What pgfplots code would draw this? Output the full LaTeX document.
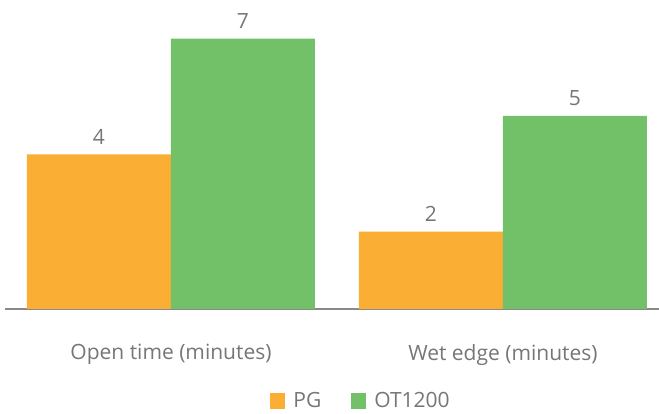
\documentclass[border=0pt]{standalone}
\usepackage{pgfplots}
\pgfplotsset{compat=1.18}
\usepackage{fontspec}
\setmainfont{Open Sans}
\definecolor{pgorange}{RGB}{250,174,52}
\definecolor{otgreen}{RGB}{114,192,103}
\definecolor{txtgray}{RGB}{118,118,118}
\definecolor{axgray}{RGB}{137,137,137}
\begin{document}
\begin{tikzpicture}
\path[use as bounding box] (0,0) rectangle (659pt,414pt);
\begin{axis}[
  at={(5pt,105pt)}, anchor=south west,
  scale only axis,
  width=654pt, height=309pt,
  ybar=0pt, bar width=144pt,
  xmin=-0.5, xmax=1.47,
  ymin=0, ymax=8,
  axis x line=bottom, axis y line=none,
  x axis line style={-, axgray, line width=1.6pt},
  xtick={0,1}, xticklabels={Open time (minutes),Wet edge (minutes)},
  major tick length=0pt,
  xticklabel style={font=\fontsize{21}{24}\selectfont, text=txtgray, inner sep=0pt, yshift=-35pt},
  nodes near coords,
  /pgf/number format/assume math mode=true,
  every node near coord/.append style={font=\fontsize{21}{24}\selectfont, text=txtgray, inner sep=0pt, yshift=10pt},
  legend style={draw=none, fill=none, at={(0.544,-0.297)}, anchor=center, legend columns=2,
    font=\fontsize{21}{24}\selectfont, text=txtgray, inner sep=0pt,
    /tikz/every even column/.append style={column sep=27.5pt}},
  legend image code/.code={\fill[#1] (0pt,-8pt) rectangle (15.5pt,8pt); \path (21.5pt,0pt);},
]
\addplot[fill=pgorange, draw=none] coordinates {(0,4) (1,2)};
\addplot[fill=otgreen, draw=none] coordinates {(0,7) (1,5)};
\legend{PG,OT1200}
\end{axis}
\end{tikzpicture}
\end{document}
